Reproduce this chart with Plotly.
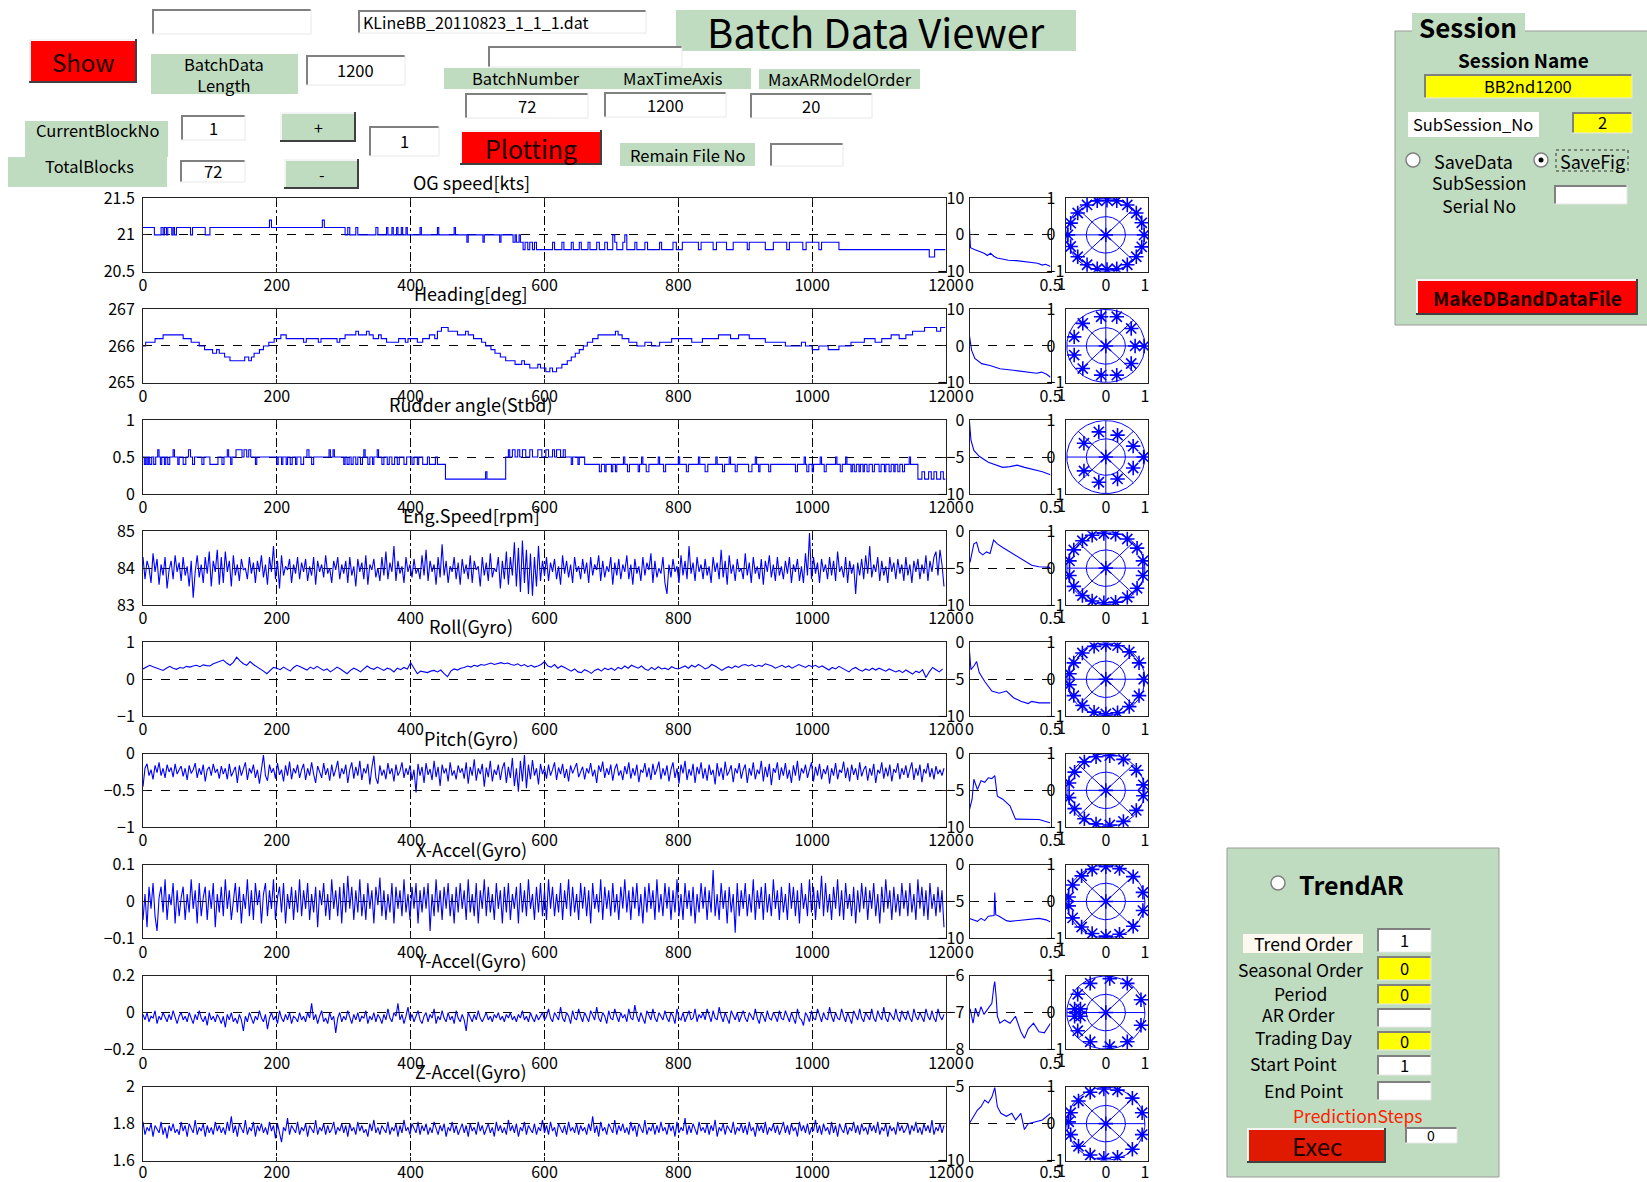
import numpy as np
import plotly.graph_objects as go

W, H = 1647, 1182
FONT = "Noto Sans CJK JP"
BLUE = "#0000ff"
GREEN = "#c0dcc0"
AXIS = "#222222"

# ---------------- data ----------------
DENSE_STEP = 3   # sample spacing of the stored values of the noisy channels
ROLL_STEP = 5    # sample spacing of the stored roll values

# step-like channels: (sample index, value) at each level change
og_speed_steps = [
    (0, 21.1), (17, 21.0), (27, 21.1), (30, 21.0), (32, 21.1), (35, 21.0), (37, 21.1), (43, 21.0), (45, 21.1),
    (47, 21.0), (50, 21.1), (71, 21.0), (74, 21.1), (93, 21.0), (100, 21.1), (189, 21.2), (192, 21.1), (268, 21.2),
    (271, 21.1), (302, 21.0), (306, 21.1), (309, 21.0), (318, 21.1), (321, 21.0), (348, 21.1), (351, 21.0),
    (364, 21.1), (366, 21.0), (372, 21.1), (374, 21.0), (379, 21.1), (381, 21.0), (386, 21.1), (388, 21.0),
    (393, 21.1), (395, 21.0), (414, 21.1), (416, 21.0), (440, 21.1), (442, 21.0), (465, 21.1), (467, 21.0),
    (484, 20.9), (486, 21.0), (508, 20.9), (510, 21.0), (533, 20.9), (535, 21.0), (553, 20.9), (556, 21.0),
    (558, 20.9), (562, 21.0), (564, 20.9), (568, 20.8), (571, 20.9), (575, 20.8), (578, 20.9), (582, 20.8),
    (585, 20.9), (588, 20.8), (612, 20.9), (615, 20.8), (626, 20.9), (629, 20.8), (640, 20.9), (643, 20.8),
    (652, 20.9), (655, 20.8), (665, 20.9), (668, 20.8), (678, 20.9), (682, 20.8), (690, 20.9), (694, 20.8),
    (702, 21.0), (705, 20.9), (708, 20.8), (717, 20.9), (720, 21.0), (723, 20.8), (735, 20.9), (738, 20.8),
    (750, 20.9), (754, 20.8), (772, 20.9), (775, 20.8), (792, 20.9), (797, 20.8), (806, 20.9), (830, 20.8),
    (834, 20.9), (852, 20.8), (857, 20.9), (872, 20.8), (882, 20.9), (903, 20.8), (906, 20.9), (930, 20.8),
    (942, 20.9), (962, 20.8), (966, 20.9), (986, 20.8), (991, 20.9), (1010, 20.8), (1014, 20.9), (1040, 20.8),
    (1175, 20.7), (1183, 20.8), (1199, 20.8),
]

heading_steps = [
    (0, 266.0), (4, 266.1), (18, 266.2), (30, 266.3), (60, 266.2), (72, 266.1), (84, 266.0), (92, 265.9),
    (104, 265.8), (110, 265.9), (114, 265.8), (122, 265.7), (130, 265.6), (152, 265.7), (158, 265.6),
    (162, 265.7), (166, 265.8), (174, 265.9), (180, 266.0), (188, 266.1), (196, 266.2), (206, 266.3),
    (214, 266.2), (240, 266.1), (244, 266.2), (262, 266.1), (266, 266.2), (290, 266.1), (294, 266.2),
    (302, 266.3), (318, 266.4), (322, 266.3), (334, 266.4), (338, 266.3), (344, 266.2), (352, 266.3),
    (356, 266.2), (364, 266.1), (382, 266.2), (392, 266.1), (396, 266.2), (410, 266.1), (418, 266.2),
    (428, 266.3), (436, 266.2), (440, 266.4), (446, 266.5), (456, 266.4), (470, 266.3), (482, 266.4),
    (486, 266.3), (494, 266.2), (506, 266.1), (512, 266.0), (520, 265.9), (526, 265.8), (534, 265.7),
    (542, 265.6), (556, 265.5), (566, 265.6), (570, 265.5), (578, 265.4), (590, 265.5), (594, 265.4),
    (602, 265.3), (608, 265.4), (612, 265.3), (618, 265.4), (626, 265.5), (634, 265.6), (640, 265.7),
    (646, 265.8), (652, 265.9), (658, 266.0), (664, 266.1), (672, 266.2), (680, 266.3), (706, 266.4),
    (710, 266.3), (716, 266.2), (726, 266.1), (738, 266.0), (750, 266.1), (760, 266.0), (772, 266.1),
    (790, 266.2), (820, 266.1), (836, 266.2), (860, 266.3), (878, 266.2), (890, 266.3), (906, 266.2),
    (930, 266.1), (960, 266.0), (984, 266.1), (990, 266.0), (1000, 265.9), (1010, 266.0), (1024, 265.9),
    (1040, 266.0), (1058, 266.1), (1078, 266.2), (1094, 266.1), (1104, 266.2), (1118, 266.3), (1130, 266.2),
    (1140, 266.3), (1150, 266.4), (1168, 266.5), (1186, 266.4), (1192, 266.5), (1199, 266.5),
]

rudder_steps = [
    (0, 0.5), (2, 0.4), (4, 0.5), (6, 0.4), (8, 0.5), (10, 0.4), (13, 0.5), (16, 0.4), (19, 0.5), (22, 0.6),
    (24, 0.5), (26, 0.4), (28, 0.5), (32, 0.4), (34, 0.5), (37, 0.4), (40, 0.5), (45, 0.6), (47, 0.5), (52, 0.4),
    (54, 0.5), (60, 0.4), (64, 0.5), (68, 0.6), (71, 0.5), (74, 0.4), (77, 0.5), (88, 0.4), (91, 0.5), (100, 0.4),
    (112, 0.5), (118, 0.4), (121, 0.5), (126, 0.6), (128, 0.5), (131, 0.4), (133, 0.5), (139, 0.6), (148, 0.5),
    (151, 0.6), (155, 0.5), (158, 0.6), (161, 0.5), (168, 0.4), (170, 0.5), (200, 0.4), (202, 0.5), (207, 0.4),
    (209, 0.5), (214, 0.4), (216, 0.5), (220, 0.4), (223, 0.5), (228, 0.4), (230, 0.5), (236, 0.4), (240, 0.5),
    (245, 0.6), (248, 0.5), (252, 0.4), (255, 0.5), (278, 0.6), (280, 0.5), (284, 0.6), (286, 0.5), (300, 0.4),
    (302, 0.5), (305, 0.4), (308, 0.5), (311, 0.4), (314, 0.5), (318, 0.4), (321, 0.5), (325, 0.4), (328, 0.5),
    (330, 0.6), (332, 0.5), (336, 0.4), (339, 0.5), (343, 0.4), (345, 0.5), (350, 0.6), (352, 0.5), (357, 0.4),
    (360, 0.5), (365, 0.4), (368, 0.5), (372, 0.4), (376, 0.5), (380, 0.4), (383, 0.5), (390, 0.4), (394, 0.5),
    (402, 0.4), (405, 0.5), (410, 0.4), (412, 0.5), (418, 0.4), (425, 0.5), (428, 0.4), (437, 0.5), (440, 0.4),
    (452, 0.2), (512, 0.3), (514, 0.2), (542, 0.5), (546, 0.6), (548, 0.5), (552, 0.6), (556, 0.5), (560, 0.6),
    (563, 0.5), (567, 0.6), (572, 0.5), (578, 0.6), (582, 0.5), (590, 0.6), (596, 0.5), (602, 0.6), (606, 0.5),
    (612, 0.6), (615, 0.5), (618, 0.6), (624, 0.5), (628, 0.6), (631, 0.5), (640, 0.4), (642, 0.5), (650, 0.4),
    (652, 0.5), (660, 0.4), (682, 0.3), (685, 0.4), (690, 0.3), (692, 0.4), (700, 0.3), (702, 0.4), (706, 0.3),
    (708, 0.4), (718, 0.5), (720, 0.4), (724, 0.3), (727, 0.4), (740, 0.3), (742, 0.4), (745, 0.5), (747, 0.4),
    (752, 0.3), (756, 0.4), (770, 0.5), (772, 0.4), (778, 0.3), (781, 0.4), (800, 0.5), (802, 0.4), (812, 0.3),
    (815, 0.4), (830, 0.5), (832, 0.4), (840, 0.3), (844, 0.4), (856, 0.5), (858, 0.4), (866, 0.3), (869, 0.4),
    (876, 0.5), (878, 0.4), (885, 0.3), (888, 0.4), (905, 0.3), (910, 0.4), (915, 0.5), (917, 0.4), (920, 0.3),
    (922, 0.4), (935, 0.3), (938, 0.4), (975, 0.3), (978, 0.4), (988, 0.5), (990, 0.4), (992, 0.3), (995, 0.4),
    (1000, 0.3), (1002, 0.4), (1012, 0.5), (1014, 0.4), (1018, 0.3), (1021, 0.4), (1035, 0.5), (1037, 0.4),
    (1042, 0.3), (1045, 0.4), (1050, 0.5), (1052, 0.4), (1058, 0.3), (1060, 0.4), (1063, 0.3), (1066, 0.4),
    (1070, 0.3), (1072, 0.4), (1076, 0.3), (1078, 0.4), (1082, 0.3), (1085, 0.4), (1090, 0.3), (1093, 0.4),
    (1100, 0.3), (1103, 0.4), (1108, 0.3), (1110, 0.4), (1115, 0.3), (1118, 0.4), (1122, 0.3), (1124, 0.4),
    (1128, 0.3), (1131, 0.4), (1135, 0.3), (1138, 0.4), (1145, 0.5), (1147, 0.4), (1158, 0.2), (1164, 0.3),
    (1168, 0.2), (1174, 0.3), (1178, 0.2), (1182, 0.3), (1186, 0.2), (1192, 0.3), (1196, 0.2), (1199, 0.2),
]

eng_speed = [
    84.3, 83.7, 84.2, 84.0, 83.6, 84.4, 83.9, 84.25, 83.55, 84.1, 83.8, 84.3, 83.45, 83.95, 84.2, 83.7, 84.35, 83.9, 84.15, 83.65,
    84.3, 83.8, 84.05, 83.5, 84.2, 83.2, 83.9, 84.35, 83.75, 84.1, 83.6, 84.3, 83.85, 84.45, 83.5, 84.2, 83.9, 84.5, 83.55, 84.3,
    83.6, 84.45, 83.9, 84.2, 83.5, 84.35, 83.8, 84.1, 83.65, 84.25, 83.95, 84.0, 83.7, 84.3, 83.85, 84.15, 83.6, 84.2, 83.9, 84.35,
    83.75, 84.1, 83.55, 84.3, 83.9, 84.6, 83.7, 84.2, 83.45, 84.35, 83.8, 84.05, 83.95, 84.25, 83.6, 84.1, 83.85, 84.3, 83.7, 84.15,
    83.9, 84.25, 83.65, 84.05, 83.8, 84.3, 83.55, 84.2, 83.9, 84.1, 83.75, 84.35, 83.85, 84.0, 83.6, 84.2, 83.95, 84.3, 83.7, 84.1,
    83.85, 84.2, 83.6, 84.3, 83.8, 84.05, 83.5, 84.25, 83.9, 84.15, 83.7, 84.35, 83.55, 84.1, 83.95, 84.25, 83.75, 84.0, 83.65, 84.3,
    83.8, 84.45, 83.7, 84.15, 83.9, 84.6, 83.65, 84.2, 83.85, 84.05, 83.6, 84.3, 83.9, 84.1, 83.75, 84.25, 83.85, 84.0, 83.7, 84.35,
    83.8, 84.5, 83.65, 84.2, 83.9, 84.1, 83.55, 84.3, 83.75, 84.65, 83.8, 84.2, 83.6, 84.05, 83.9, 84.3, 83.7, 84.15, 83.55, 84.25,
    83.85, 84.1, 83.7, 84.35, 83.6, 84.2, 83.95, 84.05, 83.5, 84.3, 83.8, 84.15, 83.65, 84.4, 83.75, 84.0, 83.9, 84.3, 83.45, 84.2,
    83.7, 84.45, 83.55, 84.3, 83.8, 84.7, 83.5, 84.55, 83.35, 84.75, 83.6, 84.5, 83.3, 84.4, 83.25, 84.3, 83.5, 84.6, 83.65, 84.2,
    83.8, 84.3, 83.65, 84.15, 83.9, 84.25, 83.7, 84.05, 83.55, 84.35, 83.85, 84.2, 83.75, 84.1, 83.6, 84.3, 83.9, 84.05, 83.7, 84.25,
    83.85, 84.15, 83.6, 84.3, 83.8, 84.1, 83.95, 84.35, 83.65, 84.2, 83.75, 84.05, 83.9, 84.3, 83.55, 84.15, 83.8, 84.25, 83.7, 84.1,
    83.9, 84.35, 83.7, 84.1, 83.55, 84.25, 83.85, 84.05, 83.65, 84.3, 83.8, 84.15, 83.95, 84.4, 83.6, 84.2, 83.75, 84.0, 83.85, 84.3,
    83.6, 83.3, 84.1, 83.75, 84.25, 83.9, 84.05, 83.6, 84.35, 83.8, 84.2, 83.7, 84.6, 83.85, 84.15, 83.65, 84.3, 83.9, 84.1, 83.7,
    84.25, 83.8, 84.05, 83.6, 84.3, 83.9, 84.15, 83.7, 84.5, 83.75, 84.2, 83.55, 84.35, 83.85, 84.1, 83.65, 84.25, 83.9, 84.0, 83.7,
    84.4, 83.8, 84.15, 83.6, 84.3, 83.85, 84.05, 83.7, 84.25, 83.55, 84.2, 83.9, 84.35, 83.75, 84.1, 83.65, 84.3, 83.8, 84.05, 83.7,
    84.2, 83.85, 84.3, 83.6, 84.1, 83.9, 84.25, 83.65, 84.05, 83.6, 84.4, 83.8, 84.95, 83.7, 84.3, 83.85, 84.15, 83.6, 84.25, 83.9,
    84.1, 83.7, 84.3, 83.8, 84.2, 83.65, 84.45, 83.9, 84.05, 83.75, 84.3, 83.6, 84.2, 83.85, 84.1, 83.3, 84.15, 83.8, 84.25, 83.7,
    84.35, 83.85, 84.6, 83.75, 84.1, 83.9, 84.3, 83.65, 84.2, 83.8, 84.05, 83.6, 84.3, 83.9, 84.15, 83.7, 84.25, 83.85, 84.1, 83.65,
    84.3, 83.8, 84.1, 83.6, 84.2, 83.9, 84.25, 83.7, 84.1, 83.85, 84.35, 83.65, 84.2, 83.9, 84.3, 84.45, 83.8, 84.5, 84.1, 83.5,
]

roll = [
    0.28, 0.33, 0.38, 0.34, 0.30, 0.26, 0.24, 0.30, 0.35, 0.30, 0.27, 0.32, 0.30, 0.35, 0.33, 0.36, 0.38, 0.34, 0.39, 0.37,
    0.36, 0.42, 0.45, 0.48, 0.52, 0.44, 0.38, 0.46, 0.60, 0.50, 0.42, 0.38, 0.48, 0.40, 0.34, 0.30, 0.22, 0.15, 0.25, 0.32,
    0.30, 0.26, 0.33, 0.28, 0.22, 0.32, 0.38, 0.34, 0.30, 0.25, 0.33, 0.28, 0.35, 0.30, 0.24, 0.28, 0.20, 0.26, 0.33, 0.28,
    0.22, 0.15, 0.24, 0.30, 0.26, 0.20, 0.28, 0.36, 0.30, 0.27, 0.33, 0.28, 0.24, 0.30, 0.27, 0.20, 0.30, 0.26, 0.32, 0.28,
    0.45, 0.30, 0.15, 0.22, 0.20, 0.18, 0.22, 0.24, 0.20, 0.25, 0.15, 0.07, 0.22, 0.28, 0.25, 0.30, 0.32, 0.36, 0.33, 0.38,
    0.35, 0.40, 0.38, 0.42, 0.44, 0.40, 0.43, 0.45, 0.42, 0.44, 0.40, 0.38, 0.42, 0.36, 0.40, 0.34, 0.38, 0.33, 0.36, 0.40,
    0.48, 0.36, 0.33, 0.40, 0.30, 0.36, 0.32, 0.26, 0.22, 0.28, 0.20, 0.18, 0.26, 0.22, 0.16, 0.24, 0.28, 0.22, 0.30, 0.26,
    0.30, 0.24, 0.32, 0.28, 0.36, 0.30, 0.38, 0.34, 0.30, 0.36, 0.28, 0.24, 0.32, 0.26, 0.34, 0.28, 0.30, 0.26, 0.34, 0.30,
    0.28, 0.32, 0.36, 0.30, 0.38, 0.33, 0.40, 0.35, 0.28, 0.32, 0.40, 0.36, 0.30, 0.24, 0.30, 0.34, 0.30, 0.36, 0.32, 0.38,
    0.40, 0.36, 0.40, 0.34, 0.38, 0.35, 0.42, 0.40, 0.36, 0.30, 0.34, 0.38, 0.32, 0.36, 0.30, 0.34, 0.40, 0.36, 0.32, 0.38,
    0.34, 0.38, 0.32, 0.36, 0.30, 0.25, 0.32, 0.28, 0.35, 0.30, 0.26, 0.20, 0.28, 0.32, 0.26, 0.22, 0.28, 0.24, 0.30, 0.25,
    0.30, 0.26, 0.22, 0.28, 0.25, 0.20, 0.24, 0.18, 0.25, 0.20, 0.14, 0.22, 0.18, 0.26, 0.05, 0.20, 0.32, 0.26, 0.20, 0.28,
]

pitch = [
    -0.45, -0.2, -0.14, -0.3, -0.22, -0.35, -0.16, -0.26, -0.12, -0.3, -0.2, -0.33, -0.15, -0.25, -0.19, -0.32, -0.14, -0.28, -0.22, -0.17,
    -0.31, -0.2, -0.36, -0.16, -0.27, -0.22, -0.13, -0.33, -0.2, -0.29, -0.15, -0.38, -0.22, -0.18, -0.3, -0.14, -0.26, -0.21, -0.34, -0.17,
    -0.28, -0.2, -0.35, -0.14, -0.31, -0.24, -0.18, -0.4, -0.16, -0.3, -0.21, -0.12, -0.36, -0.2, -0.27, -0.15, -0.33, -0.22, -0.41, -0.19,
    -0.02, -0.3, -0.37, -0.15, -0.26, -0.2, -0.34, -0.13, -0.29, -0.22, -0.38, -0.16, -0.3, -0.11, -0.35, -0.2, -0.27, -0.15, -0.33, -0.22,
    -0.14, -0.36, -0.2, -0.3, -0.12, -0.28, -0.4, -0.17, -0.25, -0.33, -0.13, -0.29, -0.2, -0.37, -0.15, -0.31, -0.22, -0.1, -0.34, -0.2,
    -0.28, -0.15, -0.4, -0.22, -0.12, -0.34, -0.18, -0.3, -0.1, -0.36, -0.2, -0.27, -0.14, -0.42, -0.19, -0.03, -0.33, -0.41, -0.16, -0.3,
    -0.22, -0.35, -0.13, -0.28, -0.2, -0.38, -0.15, -0.3, -0.24, -0.12, -0.33, -0.2, -0.29, -0.16, -0.36, -0.22, -0.53, -0.14, -0.3, -0.18,
    -0.4, -0.13, -0.29, -0.21, -0.36, -0.1, -0.32, -0.18, -0.44, -0.15, -0.27, -0.2, -0.38, -0.12, -0.3, -0.23, -0.35, -0.16, -0.26, -0.2,
    -0.34, -0.12, -0.41, -0.18, -0.3, -0.08, -0.37, -0.2, -0.28, -0.14, -0.45, -0.19, -0.32, -0.1, -0.38, -0.22, -0.29, -0.15, -0.36, -0.2,
    -0.12, -0.4, -0.18, -0.33, -0.06, -0.44, -0.2, -0.52, -0.1, -0.38, -0.02, -0.47, -0.15, -0.35, -0.09, -0.3, -0.2, -0.42, -0.14, -0.28,
    -0.2, -0.34, -0.15, -0.3, -0.22, -0.12, -0.36, -0.19, -0.28, -0.14, -0.33, -0.21, -0.38, -0.16, -0.27, -0.2, -0.13, -0.32, -0.24, -0.18,
    -0.35, -0.2, -0.27, -0.13, -0.31, -0.22, -0.4, -0.16, -0.25, -0.11, -0.33, -0.2, -0.29, -0.15, -0.37, -0.21, -0.14, -0.3, -0.23, -0.36,
    -0.17, -0.28, -0.12, -0.34, -0.2, -0.3, -0.15, -0.39, -0.22, -0.26, -0.13, -0.32, -0.19, -0.36, -0.14, -0.29, -0.21, -0.11, -0.35, -0.2,
    -0.3, -0.16, -0.38, -0.22, -0.12, -0.33, -0.2, -0.41, -0.15, -0.27, -0.1, -0.36, -0.21, -0.3, -0.14, -0.4, -0.18, -0.28, -0.12, -0.34,
    -0.2, -0.37, -0.15, -0.29, -0.22, -0.42, -0.13, -0.31, -0.19, -0.36, -0.11, -0.3, -0.24, -0.16, -0.39, -0.2, -0.27, -0.13, -0.34, -0.22,
    -0.15, -0.4, -0.2, -0.3, -0.12, -0.35, -0.22, -0.28, -0.1, -0.38, -0.18, -0.32, -0.14, -0.43, -0.2, -0.26, -0.12, -0.36, -0.19, -0.3,
    -0.13, -0.34, -0.22, -0.4, -0.16, -0.3, -0.1, -0.37, -0.2, -0.27, -0.15, -0.33, -0.22, -0.12, -0.38, -0.18, -0.3, -0.14, -0.35, -0.21,
    -0.28, -0.16, -0.41, -0.2, -0.3, -0.13, -0.35, -0.22, -0.26, -0.11, -0.33, -0.19, -0.38, -0.15, -0.29, -0.2, -0.36, -0.12, -0.31, -0.22,
    -0.17, -0.37, -0.2, -0.3, -0.14, -0.4, -0.22, -0.27, -0.12, -0.34, -0.19, -0.31, -0.15, -0.38, -0.21, -0.26, -0.13, -0.35, -0.2, -0.29,
    -0.16, -0.33, -0.22, -0.12, -0.36, -0.2, -0.3, -0.15, -0.39, -0.21, -0.27, -0.13, -0.32, -0.2, -0.35, -0.17, -0.28, -0.22, -0.3, -0.2,
]

x_accel = [
    -0.05, 0.02, -0.07, 0.04, -0.02, 0.05, -0.04, -0.08, 0.01, 0.04, -0.03, 0.06, -0.05, 0.02, -0.01, 0.05, -0.06, 0.03, -0.04, 0.01,
    0.04, -0.05, 0.02, -0.03, 0.06, -0.02, 0.03, -0.06, 0.05, -0.04, 0.01, 0.04, -0.05, 0.03, -0.02, 0.05, -0.07, 0.02, -0.03, 0.04,
    -0.04, 0.06, -0.02, 0.03, -0.05, 0.01, 0.05, -0.03, 0.04, -0.06, 0.02, -0.02, 0.06, -0.04, 0.03, -0.05, 0.05, -0.01, 0.03, -0.06,
    0.02, 0.05, -0.04, 0.03, -0.02, 0.06, -0.05, 0.01, 0.04, -0.03, 0.05, -0.06, 0.02, -0.02, 0.04, -0.05, 0.03, -0.03, 0.06, -0.04,
    0.03, -0.02, 0.05, -0.05, 0.02, -0.03, 0.04, -0.07, 0.03, -0.01, 0.05, -0.04, 0.02, -0.05, 0.06, -0.02, 0.03, -0.04, 0.04, -0.06,
    0.05, -0.03, 0.07, -0.02, 0.04, -0.05, 0.03, -0.03, 0.06, -0.04, 0.02, -0.05, 0.05, -0.02, 0.03, -0.06, 0.04, -0.01, 0.065, -0.04,
    0.03, -0.05, 0.02, -0.03, 0.05, -0.06, 0.04, -0.02, 0.03, -0.04, 0.06, -0.03, 0.02, -0.05, 0.04, -0.02, 0.05, -0.06, 0.03, -0.03,
    0.04, -0.02, 0.05, -0.08, 0.02, -0.04, 0.06, -0.03, 0.03, -0.05, 0.04, -0.02, 0.05, -0.04, 0.02, -0.06, 0.04, -0.03, 0.05, -0.02,
    0.03, -0.05, 0.06, -0.03, 0.02, -0.04, 0.05, -0.06, 0.03, -0.02, 0.06, -0.04, 0.04, -0.03, 0.02, -0.05, 0.05, -0.02, 0.03, -0.06,
    0.04, -0.03, 0.05, -0.05, 0.02, -0.02, 0.04, -0.06, 0.05, -0.03, 0.03, -0.04, 0.06, -0.02, 0.02, -0.05, 0.04, -0.03, 0.05, -0.04,
    0.03, -0.05, 0.06, -0.02, 0.04, -0.04, 0.02, -0.03, 0.05, -0.05, 0.03, -0.02, 0.06, -0.04, 0.04, -0.03, 0.02, -0.05, 0.05, -0.02,
    0.04, -0.04, 0.03, -0.06, 0.05, -0.02, 0.02, -0.03, 0.06, -0.05, 0.04, -0.02, 0.03, -0.04, 0.05, -0.03, 0.02, -0.05, 0.04, -0.02,
    0.06, -0.03, 0.03, -0.05, 0.04, -0.02, 0.05, -0.04, 0.02, -0.06, 0.04, -0.03, 0.05, -0.02, 0.03, -0.05, 0.06, -0.03, 0.02, -0.04,
    0.05, -0.02, 0.04, -0.05, 0.03, -0.03, 0.06, -0.04, 0.02, -0.05, 0.05, -0.02, 0.03, -0.04, 0.04, -0.06, 0.02, -0.03, 0.05, -0.02,
    0.04, -0.05, 0.03, -0.03, 0.085, -0.04, 0.02, -0.05, 0.05, -0.02, 0.03, -0.06, 0.04, -0.03, 0.02, -0.085, 0.05, -0.04, 0.03, -0.02,
    0.05, -0.04, 0.02, -0.03, 0.06, -0.05, 0.03, -0.02, 0.04, -0.05, 0.05, -0.03, 0.02, -0.04, 0.06, -0.02, 0.03, -0.05, 0.04, -0.03,
    0.02, -0.05, 0.05, -0.02, 0.04, -0.04, 0.03, -0.06, 0.05, -0.02, 0.02, -0.04, 0.06, -0.03, 0.04, -0.05, 0.03, -0.02, 0.07, -0.04,
    0.05, -0.03, 0.02, -0.05, 0.04, -0.02, 0.06, -0.04, 0.03, -0.05, 0.05, -0.02, 0.02, -0.04, 0.04, -0.06, 0.03, -0.03, 0.05, -0.02,
    0.04, -0.05, 0.03, -0.02, 0.05, -0.04, 0.02, -0.06, 0.04, -0.03, 0.06, -0.02, 0.03, -0.05, 0.04, -0.03, 0.02, -0.04, 0.05, -0.02,
    0.03, -0.04, 0.05, -0.03, 0.02, -0.05, 0.06, -0.02, 0.04, -0.04, 0.03, -0.05, 0.05, -0.02, 0.02, -0.04, 0.04, -0.03, 0.03, -0.07,
]

y_accel = [
    -0.01, -0.04, 0.0, -0.05, -0.02, -0.03, 0.01, -0.06, -0.02, -0.04, 0.0, -0.03, -0.05, -0.01, -0.04, 0.01, -0.03, -0.06, -0.02, 0.0,
    -0.04, -0.02, -0.05, 0.0, -0.03, -0.06, -0.01, -0.04, 0.01, -0.03, -0.05, -0.02, -0.07, 0.0, -0.04, -0.02, -0.05, -0.01, -0.03, -0.06,
    -0.02, -0.08, -0.01, -0.04, 0.0, -0.05, -0.03, -0.06, -0.01, -0.04, -0.1, -0.02, -0.05, 0.0, -0.03, -0.06, -0.02, -0.04, 0.01, -0.03,
    -0.05, -0.01, -0.09, -0.03, 0.0, -0.04, -0.02, -0.06, 0.01, -0.03, -0.05, -0.01, -0.04, 0.0, -0.06, -0.02, -0.03, -0.05, 0.0, -0.04,
    -0.02, -0.05, 0.0, -0.03, 0.05, -0.04, -0.01, -0.06, -0.02, 0.01, -0.05, -0.03, -0.06, 0.0, -0.04, -0.02, -0.11, -0.03, 0.0, -0.05,
    -0.02, -0.04, 0.01, -0.03, -0.06, -0.01, -0.04, 0.0, -0.05, -0.02, -0.03, 0.01, -0.06, -0.02, -0.04, 0.0, -0.05, -0.01, -0.03, -0.06,
    -0.01, -0.04, 0.02, -0.03, -0.05, 0.0, -0.02, 0.05, -0.04, -0.01, -0.06, -0.02, 0.03, -0.04, -0.01, -0.05, -0.02, 0.01, -0.04, -0.06,
    -0.02, 0.0, -0.05, -0.01, -0.03, 0.02, -0.06, -0.02, -0.04, 0.01, -0.03, -0.05, 0.0, -0.04, -0.02, -0.06, 0.01, -0.03, -0.05, -0.01,
    -0.04, -0.1, 0.0, -0.03, -0.05, -0.01, -0.04, 0.01, -0.03, -0.05, -0.02, 0.0, -0.04, -0.02, -0.05, -0.01, -0.03, 0.0, -0.04, -0.02,
    -0.05, -0.01, -0.03, 0.0, -0.04, -0.02, -0.05, -0.01, -0.03, 0.01, -0.04, -0.02, -0.05, 0.0, -0.03, -0.05, -0.01, -0.04, -0.02, 0.0,
    -0.04, -0.02, 0.02, -0.03, -0.05, 0.0, -0.02, -0.04, 0.03, -0.03, -0.05, 0.0, -0.02, -0.06, 0.01, -0.03, -0.04, 0.02, -0.02, -0.05,
    0.0, -0.03, -0.05, 0.01, -0.02, -0.04, 0.03, -0.03, -0.05, 0.0, -0.02, -0.06, 0.01, -0.03, -0.04, 0.02, -0.02, -0.05, 0.0, -0.03,
    -0.01, -0.05, 0.02, -0.03, -0.04, 0.04, -0.02, -0.05, 0.0, -0.03, -0.06, 0.01, -0.02, -0.04, 0.02, -0.03, -0.05, 0.0, -0.02, -0.04,
    0.01, -0.03, -0.05, 0.0, -0.02, -0.06, 0.02, -0.03, -0.04, 0.0, -0.05, -0.02, 0.01, -0.04, -0.03, 0.02, -0.05, -0.01, -0.03, 0.0,
    -0.04, 0.02, -0.02, -0.05, 0.01, -0.03, -0.04, 0.03, -0.02, -0.05, 0.0, -0.03, -0.06, 0.01, -0.02, -0.04, 0.0, -0.05, -0.02, 0.01,
    -0.03, -0.05, 0.0, -0.02, -0.04, 0.02, -0.03, -0.06, 0.0, -0.02, -0.05, 0.01, -0.03, -0.04, 0.0, -0.02, -0.05, 0.01, -0.03, -0.04,
    0.01, -0.02, -0.05, 0.0, -0.03, -0.06, 0.02, -0.03, -0.04, -0.07, 0.0, -0.02, -0.05, 0.01, -0.03, -0.04, 0.02, -0.02, -0.05, 0.0,
    -0.03, -0.04, 0.03, -0.02, -0.05, 0.0, -0.03, -0.04, 0.02, -0.02, -0.05, 0.0, -0.03, -0.06, 0.01, -0.02, -0.04, 0.02, -0.03, -0.05,
    0.0, -0.02, -0.04, 0.02, -0.03, -0.05, 0.01, -0.02, -0.04, 0.03, -0.03, -0.05, 0.0, -0.02, -0.04, 0.02, -0.03, -0.05, 0.01, -0.02,
    -0.04, 0.01, -0.03, -0.05, 0.02, -0.02, -0.04, 0.0, -0.03, -0.05, 0.02, -0.02, -0.04, 0.01, -0.03, -0.05, 0.02, -0.02, -0.04, -0.01,
]

z_accel = [
    1.81, 1.74, 1.78, 1.76, 1.80, 1.73, 1.79, 1.77, 1.75, 1.81, 1.74, 1.78, 1.72, 1.79, 1.76, 1.80, 1.75, 1.77, 1.74, 1.81,
    1.76, 1.79, 1.73, 1.80, 1.77, 1.75, 1.82, 1.74, 1.78, 1.76, 1.80, 1.73, 1.79, 1.75, 1.78, 1.74, 1.81, 1.76, 1.79, 1.75,
    1.78, 1.74, 1.81, 1.76, 1.84, 1.75, 1.79, 1.73, 1.80, 1.77, 1.75, 1.82, 1.74, 1.78, 1.76, 1.81, 1.73, 1.79, 1.76, 1.80,
    1.75, 1.78, 1.74, 1.81, 1.76, 1.79, 1.72, 1.80, 1.75, 1.70, 1.78, 1.76, 1.83, 1.74, 1.79, 1.77, 1.75, 1.81, 1.74, 1.78,
    1.76, 1.80, 1.73, 1.79, 1.77, 1.75, 1.82, 1.74, 1.78, 1.76, 1.80, 1.74, 1.79, 1.75, 1.77, 1.81, 1.74, 1.78, 1.76, 1.80,
    1.75, 1.79, 1.73, 1.80, 1.76, 1.78, 1.74, 1.81, 1.76, 1.79, 1.75, 1.77, 1.73, 1.80, 1.76, 1.82, 1.75, 1.78, 1.74, 1.79,
    1.77, 1.75, 1.81, 1.74, 1.78, 1.76, 1.80, 1.73, 1.79, 1.75, 1.82, 1.76, 1.78, 1.74, 1.80, 1.77, 1.75, 1.81, 1.74, 1.79,
    1.76, 1.80, 1.74, 1.78, 1.75, 1.81, 1.77, 1.74, 1.79, 1.76, 1.80, 1.73, 1.78, 1.76, 1.81, 1.75, 1.79, 1.74, 1.77, 1.80,
    1.75, 1.79, 1.73, 1.80, 1.76, 1.78, 1.74, 1.81, 1.76, 1.79, 1.74, 1.77, 1.80, 1.75, 1.78, 1.73, 1.81, 1.76, 1.79, 1.75,
    1.78, 1.74, 1.82, 1.76, 1.79, 1.75, 1.80, 1.73, 1.78, 1.76, 1.81, 1.74, 1.79, 1.77, 1.75, 1.80, 1.74, 1.78, 1.76, 1.82,
    1.75, 1.79, 1.74, 1.81, 1.76, 1.78, 1.73, 1.80, 1.77, 1.75, 1.79, 1.74, 1.81, 1.76, 1.78, 1.75, 1.80, 1.74, 1.79, 1.76,
    1.78, 1.74, 1.80, 1.76, 1.84, 1.75, 1.79, 1.73, 1.81, 1.76, 1.78, 1.74, 1.80, 1.77, 1.75, 1.82, 1.74, 1.79, 1.76, 1.80,
    1.75, 1.78, 1.74, 1.81, 1.76, 1.79, 1.73, 1.80, 1.77, 1.75, 1.82, 1.74, 1.78, 1.76, 1.80, 1.74, 1.79, 1.75, 1.81, 1.76,
    1.78, 1.74, 1.80, 1.76, 1.79, 1.73, 1.81, 1.75, 1.78, 1.76, 1.83, 1.74, 1.79, 1.75, 1.80, 1.77, 1.74, 1.81, 1.76, 1.78,
    1.75, 1.80, 1.74, 1.79, 1.76, 1.82, 1.73, 1.78, 1.76, 1.80, 1.74, 1.79, 1.77, 1.75, 1.81, 1.74, 1.78, 1.76, 1.80, 1.75,
    1.79, 1.74, 1.81, 1.76, 1.78, 1.73, 1.80, 1.76, 1.79, 1.75, 1.81, 1.74, 1.78, 1.76, 1.80, 1.75, 1.79, 1.74, 1.77, 1.81,
    1.75, 1.79, 1.74, 1.80, 1.76, 1.78, 1.73, 1.81, 1.76, 1.79, 1.75, 1.80, 1.74, 1.78, 1.76, 1.82, 1.75, 1.79, 1.74, 1.80,
    1.76, 1.78, 1.74, 1.81, 1.75, 1.79, 1.73, 1.80, 1.77, 1.75, 1.80, 1.74, 1.78, 1.76, 1.81, 1.75, 1.79, 1.74, 1.80, 1.76,
    1.78, 1.74, 1.80, 1.76, 1.79, 1.75, 1.81, 1.74, 1.78, 1.76, 1.80, 1.73, 1.79, 1.76, 1.78, 1.74, 1.81, 1.76, 1.79, 1.75,
    1.77, 1.80, 1.74, 1.79, 1.76, 1.81, 1.75, 1.78, 1.74, 1.80, 1.76, 1.79, 1.75, 1.82, 1.74, 1.78, 1.76, 1.80, 1.75, 1.79,
]

# log power spectra: (frequency, level)
spec_og = [(0, 1.8), (0.006, -3.5), (0.03, -4.0), (0.06, -4.4), (0.09, -5.0), (0.11, -5.6), (0.13, -5.0), (0.15, -5.8),
           (0.17, -6.3), (0.21, -6.6), (0.24, -6.9), (0.29, -7.0), (0.34, -7.3), (0.38, -7.4), (0.42, -7.7),
           (0.45, -8.2), (0.47, -8.0), (0.5, -8.6)]
spec_heading = [(0, 2.7), (0.013, -1.2), (0.033, -3.4), (0.075, -4.8), (0.126, -5.3), (0.188, -6.2), (0.27, -6.6),
                (0.352, -7.1), (0.414, -7.4), (0.445, -7.1), (0.476, -7.7), (0.5, -8.5)]
spec_rudder = [(0, -0.2), (0.009, -2.7), (0.027, -4.1), (0.06, -4.9), (0.116, -5.7), (0.16, -6.0), (0.205, -6.4),
               (0.25, -6.3), (0.294, -6.1), (0.34, -6.4), (0.384, -6.6), (0.45, -7.0), (0.5, -7.4)]
spec_eng = [(0, -4.3), (0.004, -4.1), (0.027, -1.7), (0.044, -1.5), (0.06, -2.8), (0.082, -3.2), (0.105, -2.8),
            (0.127, -3.0), (0.149, -1.2), (0.172, -1.7), (0.205, -2.2), (0.25, -2.8), (0.294, -3.5), (0.339, -4.1),
            (0.384, -4.6), (0.429, -4.8), (0.473, -4.8), (0.5, -4.9)]
spec_roll = [(0, -1.2), (0.009, -3.7), (0.027, -3.2), (0.044, -2.6), (0.06, -4.1), (0.094, -5.3), (0.138, -6.6),
             (0.183, -6.9), (0.228, -6.6), (0.272, -7.5), (0.317, -8.0), (0.362, -8.3), (0.384, -8.0), (0.429, -8.2),
             (0.5, -8.2)]
spec_pitch = [(0, -7.6), (0.016, -6.2), (0.027, -3.5), (0.049, -4.9), (0.071, -3.7), (0.094, -3.9), (0.116, -3.3),
              (0.138, -3.4), (0.156, -3.0), (0.172, -5.8), (0.205, -6.2), (0.25, -7.1), (0.284, -8.9), (0.339, -8.9),
              (0.429, -8.95), (0.496, -9.4)]
spec_xacc = [(0, -7.3), (0.027, -7.5), (0.049, -7.7), (0.071, -7.3), (0.094, -7.6), (0.116, -7.0), (0.138, -7.0),
             (0.152, -6.9), (0.156, -3.8), (0.162, -6.8), (0.183, -7.0), (0.205, -7.3), (0.228, -7.6), (0.25, -7.7),
             (0.294, -7.6), (0.339, -7.5), (0.384, -7.4), (0.429, -7.3), (0.473, -7.5), (0.5, -7.8)]
spec_yacc = [(0, -6.97), (0.004, -6.9), (0.022, -7.29), (0.037, -6.88), (0.054, -7.11), (0.071, -6.84), (0.089, -7.05),
             (0.116, -6.9), (0.138, -6.75), (0.15, -6.3), (0.156, -6.16), (0.165, -6.6), (0.172, -7.1), (0.1875, -7.29),
             (0.216, -7.2), (0.25, -7.29), (0.284, -7.1), (0.317, -7.52), (0.339, -7.7), (0.362, -7.45), (0.395, -7.29),
             (0.429, -7.52), (0.462, -7.55), (0.5, -7.29)]
spec_zacc = [(0, -7.47), (0.027, -7.03), (0.049, -6.58), (0.071, -6.35), (0.094, -5.9), (0.116, -6.1), (0.138, -5.7),
             (0.156, -5.05), (0.172, -6.35), (0.194, -6.8), (0.228, -7.0), (0.261, -6.8), (0.284, -7.25), (0.317, -6.8),
             (0.339, -7.9), (0.362, -7.5), (0.406, -7.4), (0.45, -7.25), (0.5, -6.8)]

# characteristic roots of the fitted AR models (real, imag)
roots_og = [(0.98, 0), (0.92, 0.33), (0.78, 0.6), (0.55, 0.82), (0.28, 0.93), (0.03, 0.95), (-0.22, 0.93), (-0.48, 0.82),
            (-0.72, 0.6), (-0.9, 0.32), (-0.97, 0), (0.92, -0.33), (0.78, -0.6), (0.55, -0.82), (0.28, -0.93),
            (0.03, -0.95), (-0.22, -0.93), (-0.48, -0.82), (-0.72, -0.6), (-0.9, -0.32), (0, 0)]
roots_heading = [(0.98, 0), (0.75, 0.0), (0.65, 0.48), (0.28, 0.8), (-0.12, 0.8), (-0.59, 0.62), (-0.81, 0.25),
                 (0.65, -0.48), (0.28, -0.8), (-0.12, -0.8), (-0.59, -0.62), (-0.81, -0.25), (0, 0)]
roots_rudder = [(-0.18, 0.69), (-0.56, 0.38), (-0.56, -0.38), (-0.18, -0.69), (0.3, 0.6), (0.3, -0.6), (0.7, 0.3),
                (0.7, -0.3), (0.97, 0), (0, 0)]
roots_eng = [(0.95, 0.2), (0.8, 0.55), (0.55, 0.8), (0.25, 0.93), (-0.05, 0.95), (-0.35, 0.9), (-0.6, 0.75),
             (-0.82, 0.5), (-0.93, 0.2), (0.95, -0.2), (0.8, -0.55), (0.55, -0.8), (0.25, -0.93), (-0.05, -0.95),
             (-0.35, -0.9), (-0.6, -0.75), (-0.82, -0.5), (-0.93, -0.2), (0, 0)]
roots_roll = [(0.97, 0), (0.85, 0.45), (0.6, 0.75), (0.3, 0.92), (0.0, 0.95), (-0.3, 0.9), (-0.6, 0.72), (-0.82, 0.45),
              (-0.93, 0.15), (0.85, -0.45), (0.6, -0.75), (0.3, -0.92), (0.0, -0.95), (-0.3, -0.9), (-0.6, -0.72),
              (-0.82, -0.45), (-0.93, -0.15), (0, 0)]
roots_pitch = [(0.96, 0.15), (0.78, 0.55), (0.45, 0.85), (0.1, 0.95), (-0.25, 0.92), (-0.55, 0.78), (-0.8, 0.5),
               (-0.94, 0.2), (0.96, -0.15), (0.78, -0.55), (0.45, -0.85), (0.1, -0.95), (-0.25, -0.92),
               (-0.55, -0.78), (-0.8, -0.5), (-0.94, -0.2), (0, 0)]
roots_xacc = [(0.95, 0.25), (0.7, 0.68), (0.35, 0.9), (0.0, 0.95), (-0.35, 0.88), (-0.62, 0.7), (-0.85, 0.45),
              (-0.95, 0.12), (0.95, -0.25), (0.7, -0.68), (0.35, -0.9), (0.0, -0.95), (-0.35, -0.88), (-0.62, -0.7),
              (-0.85, -0.45), (-0.95, -0.12), (0, 0)]
roots_yacc = [(0.9, 0.35), (0.55, 0.8), (0.1, 0.93), (-0.4, 0.8), (-0.72, 0.5), (-0.8, 0.1), (-0.65, 0.1),
              (0.9, -0.35), (0.55, -0.8), (0.1, -0.93), (-0.4, -0.8), (-0.72, -0.5), (-0.8, -0.1), (-0.65, -0.1),
              (0, 0)]
roots_zacc = [(0.93, 0.3), (0.68, 0.7), (0.3, 0.92), (-0.05, 0.95), (-0.4, 0.86), (-0.7, 0.62), (-0.9, 0.3),
              (-0.95, 0.05), (0.93, -0.3), (0.68, -0.7), (0.3, -0.92), (-0.05, -0.95), (-0.4, -0.86), (-0.7, -0.62),
              (-0.9, -0.3), (0, 0)]

MINUS = "\u2212"
rows = [
    dict(title="OG speed[kts]", steps=og_speed_steps, yr=(20.5, 21.5), yl=["20.5", "21", "21.5"],
         spec=spec_og, sr=(-10, 10), sl=[MINUS + "10", "0", "10"], roots=roots_og),
    dict(title="Heading[deg]", steps=heading_steps, yr=(265, 267), yl=["265", "266", "267"],
         spec=spec_heading, sr=(-10, 10), sl=[MINUS + "10", "0", "10"], roots=roots_heading),
    dict(title="Rudder angle(Stbd)", steps=rudder_steps, yr=(0, 1), yl=["0", "0.5", "1"],
         spec=spec_rudder, sr=(-10, 0), sl=[MINUS + "10", MINUS + "5", "0"], roots=roots_rudder),
    dict(title="Eng.Speed[rpm]", samples=eng_speed, step=DENSE_STEP, yr=(83, 85), yl=["83", "84", "85"],
         spec=spec_eng, sr=(-10, 0), sl=[MINUS + "10", MINUS + "5", "0"], roots=roots_eng),
    dict(title="Roll(Gyro)", samples=roll, step=ROLL_STEP, yr=(-1, 1), yl=[MINUS + "1", "0", "1"],
         spec=spec_roll, sr=(-10, 0), sl=[MINUS + "10", MINUS + "5", "0"], roots=roots_roll),
    dict(title="Pitch(Gyro)", samples=pitch, step=DENSE_STEP, yr=(-1, 0), yl=[MINUS + "1", MINUS + "0.5", "0"],
         spec=spec_pitch, sr=(-10, 0), sl=[MINUS + "10", MINUS + "5", "0"], roots=roots_pitch),
    dict(title="X-Accel(Gyro)", samples=x_accel, step=DENSE_STEP, yr=(-0.1, 0.1), yl=[MINUS + "0.1", "0", "0.1"],
         spec=spec_xacc, sr=(-10, 0), sl=[MINUS + "10", MINUS + "5", "0"], roots=roots_xacc),
    dict(title="Y-Accel(Gyro)", samples=y_accel, step=DENSE_STEP, yr=(-0.2, 0.2), yl=[MINUS + "0.2", "0", "0.2"],
         spec=spec_yacc, sr=(-8, -6), sl=[MINUS + "8", MINUS + "7", MINUS + "6"], roots=roots_yacc),
    dict(title="Z-Accel(Gyro)", samples=z_accel, step=DENSE_STEP, yr=(1.6, 2.0), yl=["1.6", "1.8", "2"],
         spec=spec_zacc, sr=(-10, -5), sl=[MINUS + "10", "", MINUS + "5"], roots=roots_zacc),
]

# ---------------- layout geometry (pixels) ----------------
MAIN_X = (143, 946)
SPEC_X = (969.5, 1050.5)
CIRC_X = (1066, 1148)
ROW_TOP0, ROW_PITCH, ROW_H = 198, 111.1, 73.7


def px(x):
    return x / W


def py(y):
    return 1 - y / H


def suffix(n):
    return "" if n == 1 else str(n)


tick_font = dict(family=FONT, size=16, color="black")
fig = go.Figure()
layout = {}
annotations = []
shapes = []

base_axis = dict(showline=True, linecolor=AXIS, linewidth=1, mirror="ticks", ticks="inside", ticklen=4,
                 tickcolor=AXIS, zeroline=False, tickfont=tick_font, fixedrange=True, automargin=False)

theta = np.linspace(0, 2 * np.pi, 241)
guide_x, guide_y = [], []
for r in (1.0, 0.5):
    guide_x += list(r * np.cos(theta)) + [None]
    guide_y += list(r * np.sin(theta)) + [None]
for a in (0, np.pi / 4, np.pi / 2, 3 * np.pi / 4):
    guide_x += [-np.cos(a), np.cos(a), None]
    guide_y += [-np.sin(a), np.sin(a), None]

for i, row in enumerate(rows):
    top = ROW_TOP0 + ROW_PITCH * i
    bot = top + ROW_H
    ydom = [py(bot), py(top)]
    n_main, n_spec, n_circ, n_right = 3 * i + 1, 3 * i + 2, 3 * i + 3, 28 + i
    # bottom row keeps its tick labels inside the page
    xlab_shift = -3 if i == len(rows) - 1 else -1

    # time series
    if "steps" in row:
        xs = [p[0] for p in row["steps"]]
        ys = [p[1] for p in row["steps"]]
        shape = "hv"
    else:
        ys = row["samples"]
        xs = np.arange(len(ys)) * row["step"]
        shape = "linear"
    fig.add_trace(go.Scatter(x=xs, y=ys, mode="lines", line=dict(color=BLUE, width=1.1, shape=shape),
                             xaxis="x" + suffix(n_main), yaxis="y" + suffix(n_main), hoverinfo="skip"))
    lo, hi = row["yr"]
    layout["xaxis" + suffix(n_main)] = dict(base_axis, domain=[px(MAIN_X[0]), px(MAIN_X[1])],
                                            anchor="y" + suffix(n_main), range=[0, 1200],
                                            tickvals=[0, 200, 400, 600, 800, 1000, 1200],
                                            showgrid=True, gridcolor="black", griddash="dashdot", gridwidth=1,
                                            ticklabelstandoff=xlab_shift)
    layout["yaxis" + suffix(n_main)] = dict(base_axis, domain=ydom, anchor="x" + suffix(n_main), range=[lo, hi],
                                            tickvals=[lo, (lo + hi) / 2, hi], ticktext=row["yl"],
                                            showgrid=True, gridcolor="black", griddash="dash", gridwidth=1,
                                            ticklabelstandoff=4)
    annotations.append(dict(text=row["title"], x=px(471), y=py(top - 16), xref="paper", yref="paper",
                            showarrow=False, xanchor="center", yanchor="middle",
                            font=dict(family=FONT, size=18, color="black")))

    # spectrum
    sx = [p[0] for p in row["spec"]]
    sy = [p[1] for p in row["spec"]]
    fig.add_trace(go.Scatter(x=sx, y=sy, mode="lines", line=dict(color=BLUE, width=1.1),
                             xaxis="x" + suffix(n_spec), yaxis="y" + suffix(n_spec), hoverinfo="skip"))
    slo, shi = row["sr"]
    layout["xaxis" + suffix(n_spec)] = dict(base_axis, domain=[px(SPEC_X[0]), px(SPEC_X[1])],
                                            anchor="y" + suffix(n_spec), range=[0, 0.5], tickvals=[0, 0.5],
                                            ticktext=["0", "0.5"], showgrid=False, ticklabelstandoff=xlab_shift)
    layout["yaxis" + suffix(n_spec)] = dict(base_axis, domain=ydom, anchor="x" + suffix(n_spec), range=[slo, shi],
                                            tickvals=[slo, (slo + shi) / 2, shi], ticktext=row["sl"],
                                            showgrid=True, gridcolor="black", griddash="dash", gridwidth=1,
                                            mirror=True, ticklabelstandoff=1)
    fig.add_trace(go.Scatter(x=[None], y=[None], mode="lines", showlegend=False, hoverinfo="skip",
                             xaxis="x" + suffix(n_spec), yaxis="y" + str(n_right)))
    layout["yaxis" + str(n_right)] = dict(overlaying="y" + suffix(n_spec), anchor="x" + suffix(n_spec),
                                          side="right", range=[-1, 1], tickvals=[-1, 0, 1],
                                          ticktext=[MINUS + "1", "0", "1"], showgrid=False, zeroline=False,
                                          showline=False, ticks="inside", ticklen=4, tickcolor=AXIS,
                                          tickfont=tick_font, ticklabelstandoff=-5, fixedrange=True,
                                          automargin=False)
    annotations.append(dict(text="1", x=px(1061), y=py(bot + 12 + xlab_shift), xref="paper", yref="paper",
                            showarrow=False, xanchor="center", yanchor="middle", font=tick_font))

    # root locations inside the unit circle
    fig.add_trace(go.Scatter(x=guide_x, y=guide_y, mode="lines", line=dict(color=BLUE, width=1),
                             xaxis="x" + suffix(n_circ), yaxis="y" + suffix(n_circ), hoverinfo="skip"))
    rx = [p[0] for p in row["roots"]]
    ry = [p[1] for p in row["roots"]]
    fig.add_trace(go.Scatter(x=rx, y=ry, mode="markers",
                             marker=dict(symbol="asterisk-open", size=12, color=BLUE, line=dict(color=BLUE, width=1.6)),
                             xaxis="x" + suffix(n_circ), yaxis="y" + suffix(n_circ), hoverinfo="skip"))
    layout["xaxis" + suffix(n_circ)] = dict(base_axis, domain=[px(CIRC_X[0]), px(CIRC_X[1])],
                                            anchor="y" + suffix(n_circ), range=[-1.02, 1.08], tickvals=[0, 1],
                                            ticktext=["0", "1"], showgrid=False, mirror=True, ticks="",
                                            ticklabelstandoff=xlab_shift)
    layout["yaxis" + suffix(n_circ)] = dict(base_axis, domain=ydom, anchor="x" + suffix(n_circ),
                                            range=[-1.01, 1.01], showticklabels=False, showgrid=False,
                                            mirror=True, ticks="")


# ---------------- control panel widgets ----------------
def rect(x0, y0, x1, y1, fill, line_color=None, width=0, dash=None):
    line = dict(color=line_color or fill, width=width)
    if dash:
        line["dash"] = dash
    shapes.append(dict(type="rect", xref="paper", yref="paper", x0=px(x0), x1=px(x1), y0=py(y1), y1=py(y0),
                       fillcolor=fill, line=line))


def seg(x0, y0, x1, y1, color, width=1):
    shapes.append(dict(type="line", xref="paper", yref="paper", x0=px(x0), x1=px(x1), y0=py(y0), y1=py(y1),
                       line=dict(color=color, width=width)))


def text(x, y, s, size=16.5, color="black", anchor="center", bold=False):
    if bold:
        s = "<b>" + s + "</b>"
    annotations.append(dict(text=s, x=px(x), y=py(y), xref="paper", yref="paper", showarrow=False,
                            xanchor=anchor, yanchor="middle", font=dict(family=FONT, size=size, color=color)))


def edit_box(x0, y0, x1, y1, s="", fill="white", size=16.5, anchor="center"):
    rect(x0, y0, x1, y1, fill)
    seg(x0, y0 + 1, x1, y0 + 1, "#808080", 2)
    seg(x0 + 1, y0, x0 + 1, y1, "#808080", 2)
    seg(x0, y1, x1, y1, "#e8e8e8", 1)
    seg(x1, y0, x1, y1, "#e8e8e8", 1)
    if s:
        if anchor == "left":
            text(x0 + 3, (y0 + y1) / 2, s, size, anchor="left")
        else:
            text((x0 + x1) / 2, (y0 + y1) / 2, s, size)


def button(x0, y0, x1, y1, s, fill, size=16.5, bold=False, color="#200000"):
    rect(x0, y0, x1, y1, fill)
    seg(x0, y0 + 1, x1, y0 + 1, "#f4f4f4", 2)
    seg(x0 + 1, y0, x0 + 1, y1, "#f4f4f4", 2)
    seg(x0, y1 - 1, x1, y1 - 1, "#404040", 2)
    seg(x1 - 1, y0, x1 - 1, y1, "#404040", 2)
    text((x0 + x1) / 2, (y0 + y1) / 2, s, size, color=color, bold=bold)


def label(x0, y0, x1, y1, s, fill=GREEN, size=16.5):
    rect(x0, y0, x1, y1, fill)
    if s:
        text((x0 + x1) / 2, (y0 + y1) / 2, s, size)


def radio(cx, cy, selected=False):
    shapes.append(dict(type="circle", xref="paper", yref="paper", x0=px(cx - 7), x1=px(cx + 7),
                       y0=py(cy + 7), y1=py(cy - 7), fillcolor="white", line=dict(color="#808080", width=1.5)))
    if selected:
        shapes.append(dict(type="circle", xref="paper", yref="paper", x0=px(cx - 2.5), x1=px(cx + 2.5),
                           y0=py(cy + 2.5), y1=py(cy - 2.5), fillcolor="black", line=dict(color="black", width=0)))


# top row
edit_box(152, 9, 311, 34)
edit_box(358, 10, 646, 33, "KLineBB_20110823_1_1_1.dat", size=16, anchor="left")
label(676, 10, 1076, 51, "")
text(876, 31, "Batch Data Viewer", size=40)
button(29, 39, 137, 83, "Show", "#ff0000", size=24)
label(151, 54, 298, 94, "BatchData<br>Length")
edit_box(306, 55, 405, 85, "1200")
edit_box(488, 46, 682, 67)
label(444, 68, 751, 89, "")
text(526, 78, "BatchNumber")
text(673, 78, "MaxTimeAxis")
label(759, 69, 920, 89, "MaxARModelOrder")
edit_box(465, 93, 588, 118, "72")
edit_box(604, 92, 726, 117, "1200")
edit_box(750, 93, 872, 118, "20")

# block navigation
label(25, 121, 168, 157, "")
text(97, 130, "CurrentBlockNo")
label(8, 157, 167, 187, "")
text(89, 166, "TotalBlocks")
edit_box(181, 115, 245, 140, "1")
edit_box(180, 160, 245, 182, "72")
button(280, 112, 356, 142, "+", GREEN, size=16, color="black")
button(284, 159, 359, 189, "-", GREEN, size=16, color="black")
edit_box(369, 126, 439, 156, "1")
button(460, 130, 602, 165, "Plotting", "#ff0000", size=25)
label(620, 143, 755, 166, "Remain File No")
edit_box(770, 143, 843, 166)

# session panel
rect(1395, 31, 1660, 325, GREEN, "#9a9a9a", 1)
rect(1412, 13, 1525, 37, GREEN)
text(1468, 26, "Session", size=26, bold=True)
text(1523, 59, "Session Name", size=19, bold=True)
edit_box(1424, 74, 1632, 98, "BB2nd1200", fill="#ffff00")
rect(1408, 112, 1539, 137, "white")
text(1473, 124, "SubSession_No")
edit_box(1572, 112, 1632, 133, "2", fill="#ffff00")
radio(1413, 160)
text(1432, 161, "SaveData", size=18, anchor="left")
radio(1541, 160, selected=True)
rect(1556, 150, 1628, 171, "rgba(0,0,0,0)", "#303030", 1, dash="dot")
text(1558, 161, "SaveFig", size=18, anchor="left")
text(1479, 194, "SubSession<br>Serial No", size=17.5)
edit_box(1554, 185, 1627, 204)
button(1416, 279, 1638, 315, "MakeDBandDataFile", "#ff0000", size=19, bold=True, color="#1a0000")

# TrendAR panel
rect(1227, 848, 1499, 1177, GREEN, "#9a9a9a", 1)
radio(1278, 883)
text(1297, 884, "TrendAR", size=25, anchor="left", bold=True)
rect(1243, 934, 1363, 953, "#fdf8f0")
text(1303, 943, "Trend Order", size=17.5)
edit_box(1377, 928, 1431, 952, "1")
text(1300, 969, "Seasonal Order", size=17.5)
edit_box(1377, 956, 1431, 980, "0", fill="#ffff00")
text(1300, 993, "Period", size=17.5)
edit_box(1377, 984, 1431, 1004, "0", fill="#ffff00")
text(1298, 1014, "AR Order", size=17.5)
edit_box(1377, 1008, 1431, 1027)
text(1303, 1037, "Trading Day", size=17.5)
edit_box(1377, 1031, 1431, 1050, "0", fill="#ffff00")
text(1293, 1063, "Start Point", size=17.5)
edit_box(1377, 1055, 1431, 1075, "1")
text(1303, 1090, "End Point", size=17.5)
edit_box(1377, 1081, 1431, 1100)
text(1357, 1115, "PredictionSteps", size=17.5, color="#ff2000")
button(1247, 1128, 1386, 1163, "Exec", "#e01a00", size=24)
edit_box(1405, 1127, 1457, 1143, "0", size=14)

layout.update(dict(width=W, height=H, margin=dict(l=0, r=0, t=0, b=0, pad=0, autoexpand=False), autosize=False,
                   paper_bgcolor="white", plot_bgcolor="white", showlegend=False,
                   annotations=annotations, shapes=shapes))
fig.update_layout(**layout)
fig.write_html("out.html", config={"displayModeBar": False})
